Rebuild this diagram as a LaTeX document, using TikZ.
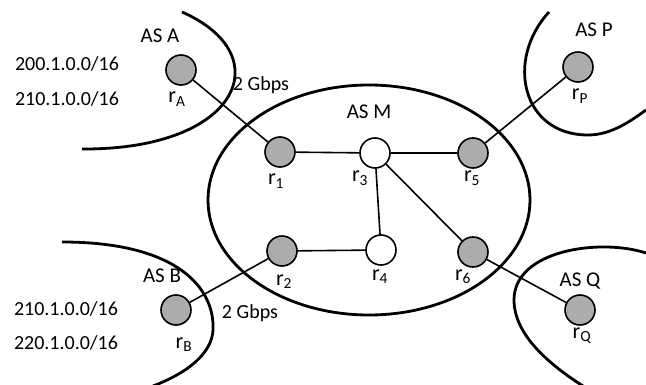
\documentclass[tikz,border=0pt]{standalone}
\usepackage{fontspec}
\setmainfont{Carlito}
\definecolor{routergray}{RGB}{174,171,171}
\begin{document}
\begin{tikzpicture}
  [x=1pt,y=-1pt,
   routerN/.style={circle,draw,line width=1.6pt,fill=routergray,minimum size=30pt,inner sep=0pt},
   innerN/.style={routerN,fill=white},
   nameN/.style={anchor=base,inner sep=0pt,font=\fontsize{20}{24}\selectfont},
   rtrN/.style={anchor=base,inner sep=0pt,font=\fontsize{22}{26}\selectfont},
   asN/.style={anchor=base,inner sep=0pt,font=\fontsize{21}{25}\selectfont},
   link/.style={line width=1.6pt},
   border/.style={line width=2.8pt}]

  \useasboundingbox (0,0) rectangle (646,385);

  % AS M
  \draw[border] (369,200) ellipse [x radius=161, y radius=115];

  % neighbouring AS borders
  \draw[border] (182,12) .. controls (280,55) and (240,150) .. (82,149);
  \draw[border] (549,12) .. controls (505,60) and (522,135) .. (588,135)
                         .. controls (612,135) and (632,120) .. (646,110);
  \draw[border] (62,242) .. controls (180,242) and (215,290) .. (213,330)
                         .. controls (212,352) and (190,372) .. (153,386);
  \draw[border] (646,253) .. controls (600,238) and (514,250) .. (514,300)
                          .. controls (514,335) and (550,365) .. (583,386);

  \node[routerN] (rA) at (181,70)  {};
  \node[routerN] (rB) at (176,310) {};
  \node[routerN] (rP) at (578,67)  {};
  \node[routerN] (rQ) at (580,310) {};

  \node[routerN] (r1) at (280,152) {};
  \node[routerN] (r2) at (282,251) {};
  \node[innerN]  (r3) at (375,153) {};
  \node[innerN]  (r4) at (381,250) {};
  \node[routerN] (r5) at (473,153) {};
  \node[routerN] (r6) at (473,252) {};

  \draw [link] (rA) -- (r1);
  \draw [link] (r1) -- (r3);
  \draw [link] (r3) -- (r5);
  \draw [link] (r5) -- (rP);
  \draw [link] (r3) -- (r4);
  \draw [link] (r3) -- (r6);
  \draw [link] (r2) -- (r4);
  \draw [link] (r2) -- (rB);
  \draw [link] (r6) -- (rQ);

  % router names
  \node[rtrN] (lA) at (177,103) {r\textsubscript{A}};
  \node[rtrN] (lB) at (184,348) {r\textsubscript{B}};
  \node[rtrN] (lP) at (580,100) {r\textsubscript{P}};
  \node[rtrN] (lQ) at (582,338) {r\textsubscript{Q}};
  \node[rtrN] (l1) at (276,185) {r\textsubscript{1}};
  \node[rtrN] (l2) at (284,285) {r\textsubscript{2}};
  \node[rtrN] (l3) at (360,182) {r\textsubscript{3}};
  \node[rtrN] (l4) at (380,280) {r\textsubscript{4}};
  \node[rtrN] (l5) at (472,182) {r\textsubscript{5}};
  \node[rtrN] (l6) at (463,280) {r\textsubscript{6}};

  % AS names
  \node[asN] (asA) at (160,43)  {AS A};
  \node[asN] (asB) at (162,283) {AS B};
  \node[asN] (asM) at (369,119) {AS M};
  \node[asN] (asP) at (594,37)  {AS P};
  \node[asN] (asQ) at (580,287) {AS Q};

  % prefixes and link speeds
  \node[nameN] (pA1) at (67,71)   {200.1.0.0/16};
  \node[nameN] (pA2) at (67,106)  {210.1.0.0/16};
  \node[nameN] (pB1) at (66,315)  {210.1.0.0/16};
  \node[nameN] (pB2) at (66,349)  {220.1.0.0/16};
  \node[nameN] (bwA) at (261,91)  {2 Gbps};
  \node[nameN] (bwB) at (250,318) {2 Gbps};
\end{tikzpicture}
\end{document}
